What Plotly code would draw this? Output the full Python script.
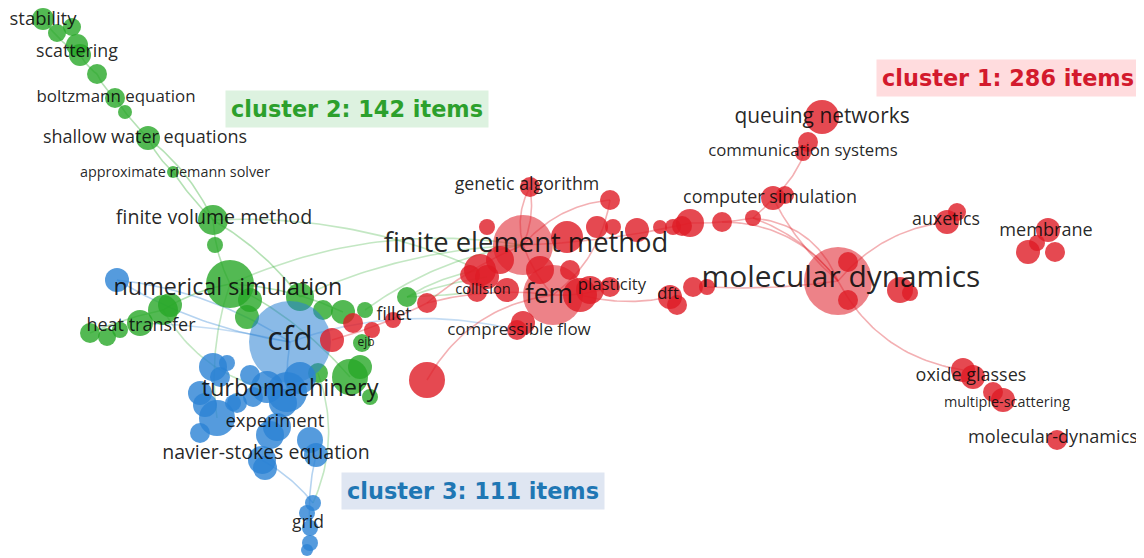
import numpy as np
import plotly.graph_objects as go

# cluster colours (VOSviewer style)
colors = {
    "red": (222, 28, 38),
    "green": (40, 168, 40),
    "blue": (42, 130, 212),
}
text_colors = {"red": "#d31a2d", "green": "#2ca02c", "blue": "#1f77b4"}
box_colors = {"red": "#ffdcde", "green": "#ddf2e0", "blue": "#dfe6f2"}

# ---- nodes: map coordinates, radius, per cluster ----
green_x = [43, 57, 72, 77, 80, 97, 115, 125, 148, 173, 213, 215, 230, 250, 247, 163, 170, 140, 107, 90,
           120, 300, 323, 343, 365, 362, 350, 360, 370, 318, 407]
green_y = [19, 33, 27, 45, 55, 74, 98, 112, 138, 172, 220, 245, 284, 300, 317, 310, 305, 323, 337, 333,
           330, 297, 310, 312, 310, 343, 377, 367, 397, 373, 297]
green_r = [11, 9, 9, 11, 11, 10, 10, 7, 12, 6, 15, 8, 24, 12, 12, 15, 12, 13, 9, 10,
           8, 14, 10, 12, 8, 9, 18, 12, 8, 10, 10]

blue_x = [290, 117, 213, 227, 220, 200, 217, 200, 267, 287, 300, 237, 253, 277, 270, 310, 316, 262, 265,
          313, 307, 310, 310, 307, 233, 283, 205, 250]
blue_y = [342, 280, 367, 363, 377, 393, 418, 433, 387, 392, 378, 403, 397, 427, 435, 440, 455, 460, 468,
          503, 513, 528, 543, 550, 403, 403, 405, 375]
blue_r = [41, 12, 14, 8, 10, 12, 18, 10, 16, 20, 16, 10, 10, 14, 14, 13, 12, 14, 12,
          8, 8, 8, 8, 6, 8, 14, 12, 10]

red_x = [523, 553, 530, 610, 487, 567, 597, 613, 637, 660, 673, 690, 480, 500, 487, 507, 477, 570, 580,
         590, 610, 523, 517, 427, 393, 670, 677, 693, 707, 427, 332, 353, 372, 838, 848, 848, 900, 910,
         822, 808, 803, 773, 785, 753, 722, 682, 947, 957, 1048, 1028, 1055, 1037, 963, 973, 993, 1003,
         1057, 540, 470]
red_y = [245, 295, 187, 200, 227, 237, 227, 227, 230, 227, 227, 223, 270, 260, 277, 290, 292, 270, 295,
         290, 287, 323, 330, 303, 320, 297, 305, 287, 287, 380, 340, 323, 330, 281, 262, 300, 290, 293,
         117, 142, 153, 198, 195, 218, 222, 226, 222, 212, 230, 252, 252, 243, 370, 377, 392, 400,
         440, 270, 275]
red_r = [30, 30, 10, 10, 8, 16, 11, 8, 12, 7, 8, 14, 16, 14, 12, 12, 10, 10, 17,
         14, 10, 12, 10, 10, 8, 12, 10, 10, 8, 18, 12, 10, 8, 34, 10, 10, 13, 8,
         17, 10, 8, 12, 9, 8, 10, 10, 12, 9, 12, 12, 10, 8, 12, 12, 10, 12,
         10, 14, 10]

nodes = {"green": (green_x, green_y, green_r),
         "blue": (blue_x, blue_y, blue_r),
         "red": (red_x, red_y, red_r)}

# ---- links: (cluster, index) pairs and curvature ----
links = [
    (("green", 0), ("green", 4), 0.1), (("green", 4), ("green", 5), 0.1), (("green", 5), ("green", 6), 0.1),
    (("green", 6), ("green", 8), 0.05), (("green", 8), ("green", 9), 0.1), (("green", 9), ("green", 10), 0.05),
    (("green", 8), ("green", 10), -0.12), (("green", 10), ("green", 12), 0.1), (("green", 10), ("green", 21), -0.1),
    (("green", 12), ("green", 15), 0.1), (("green", 15), ("green", 19), 0.05), (("green", 12), ("green", 23), -0.1),
    (("green", 12), ("red", 0), -0.15), (("green", 10), ("red", 12), -0.12), (("green", 21), ("red", 0), -0.1),
    (("green", 30), ("red", 12), -0.1), (("green", 30), ("red", 14), -0.05), (("green", 30), ("red", 16), 0.02),
    (("green", 24), ("red", 0), -0.12), (("green", 15), ("blue", 9), 0.25), (("green", 26), ("green", 12), 0.1),
    (("green", 29), ("blue", 19), -0.2), (("green", 12), ("blue", 6), 0.12),
    (("blue", 1), ("blue", 0), -0.12), (("blue", 1), ("blue", 0), 0.1), (("blue", 0), ("blue", 9), 0.05),
    (("blue", 17), ("blue", 19), -0.1), (("blue", 16), ("blue", 21), 0.08), (("blue", 0), ("green", 17), 0.05),
    (("blue", 0), ("red", 22), -0.15),
    (("red", 0), ("red", 2), -0.2), (("red", 0), ("red", 2), 0.15), (("red", 1), ("red", 29), 0.25),
    (("red", 0), ("red", 23), 0.08), (("red", 1), ("red", 23), 0.1), (("red", 18), ("red", 25), 0.12),
    (("red", 11), ("red", 43), 0.05), (("red", 43), ("red", 41), 0.05), (("red", 41), ("red", 39), 0.15),
    (("red", 43), ("red", 33), -0.15), (("red", 43), ("red", 33), -0.3), (("red", 44), ("red", 33), -0.25),
    (("red", 41), ("red", 33), 0.1), (("red", 33), ("red", 46), -0.2), (("red", 33), ("red", 52), 0.25),
    (("red", 0), ("red", 3), -0.2), (("red", 1), ("red", 3), 0.2), (("red", 0), ("red", 11), 0.05),
    (("red", 28), ("red", 33), 0.05), (("red", 0), ("red", 1), 0.1), (("red", 1), ("red", 20), 0.1),
    (("red", 30), ("red", 23), 0.05),
]

# ---- labels ----
label_text = ["stability", "scattering", "boltzmann equation", "shallow water equations",
              "approximate riemann solver", "finite volume method", "numerical simulation",
              "heat transfer", "cfd", "turbomachinery", "experiment", "navier-stokes equation",
              "grid", "ejb", "fillet", "collision", "fem", "plasticity", "compressible flow",
              "genetic algorithm", "finite element method", "dft", "computer simulation",
              "communication systems", "queuing networks", "molecular dynamics", "auxetics",
              "membrane", "oxide glasses", "multiple-scattering", "molecular-dynamics"]
label_x = [43, 77, 116, 145, 175, 214, 228, 141, 290, 290, 275, 266, 308, 366, 394, 483, 549, 612, 519,
           527, 526, 668, 770, 803, 822, 841, 946, 1046, 971, 1007, 1053]
label_y = [20, 53, 98, 138, 173, 219, 289, 326, 342, 390, 422, 454, 524, 343, 316, 290, 296, 286, 331,
           186, 245, 295, 199, 152, 118, 280, 221, 231, 376, 403, 438]
label_size = [18.5, 17.8, 16.9, 18, 14.4, 19.6, 23.3, 18, 32, 23.6, 18.4, 19.5, 17.5, 12, 17.5, 14.7,
              26.4, 16.7, 17, 17.8, 27.4, 16.6, 17.9, 16.8, 20.9, 29.9, 17.8, 18.1, 18, 14.4, 18.1]

cluster_text = ["cluster 1: 286 items", "cluster 2: 142 items", "cluster 3: 111 items"]
cluster_color = ["red", "green", "blue"]
cluster_x = [1008, 357, 473]
cluster_y = [78, 109, 491]

# page body has an 8px margin; shift the axes so map coordinates land on pixels
OFF = 8


def rgba(name, a):
    r, g, b = colors[name]
    return f"rgba({r},{g},{b},{a})"


def curve(p, q, bend, n=40):
    x0, y0 = p
    x1, y1 = q
    mx, my = (x0 + x1) / 2, (y0 + y1) / 2
    cx, cy = mx - (y1 - y0) * bend, my + (x1 - x0) * bend
    t = np.linspace(0, 1, n)
    xs = (1 - t) ** 2 * x0 + 2 * (1 - t) * t * cx + t ** 2 * x1
    ys = (1 - t) ** 2 * y0 + 2 * (1 - t) * t * cy + t ** 2 * y1
    return xs, ys


def pos(ref):
    c, i = ref
    return nodes[c][0][i], nodes[c][1][i]


fig = go.Figure()

for a, b, bend in links:
    xs, ys = curve(pos(a), pos(b), bend)
    col = rgba(a[0], 0.35) if a[0] == b[0] else rgba(a[0], 0.28)
    fig.add_trace(go.Scatter(x=xs, y=ys, mode="lines", line=dict(color=col, width=1.6),
                             hoverinfo="skip", showlegend=False))

for c in ["green", "blue", "red"]:
    xs, ys, rs = nodes[c]
    fig.add_trace(go.Scatter(
        x=xs, y=ys, mode="markers",
        marker=dict(size=[2 * r for r in rs], color=rgba(c, 1),
                    opacity=[0.55 if r > 25 else 0.8 for r in rs], line=dict(width=0)),
        hoverinfo="skip", showlegend=False,
    ))

fig.add_trace(go.Scatter(
    x=label_x, y=label_y, mode="text", text=label_text, cliponaxis=False,
    textfont=dict(family="Open Sans", size=label_size, color="rgba(10,10,10,0.9)"),
    hoverinfo="skip", showlegend=False,
))

for txt, c, x, y in zip(cluster_text, cluster_color, cluster_x, cluster_y):
    fig.add_annotation(
        x=x, y=y, text=f"<b>{txt}</b>", showarrow=False,
        font=dict(family="DejaVu Sans", size=22.4, color=text_colors[c]),
        bgcolor=box_colors[c], borderpad=5,
    )

fig.update_xaxes(range=[OFF, 1144 + OFF], visible=False)
fig.update_yaxes(range=[558 + OFF, OFF], visible=False)
fig.update_layout(
    width=1144, height=558,
    margin=dict(l=0, r=0, t=0, b=0),
    plot_bgcolor="white", paper_bgcolor="white",
)

fig.write_html("out.html")
